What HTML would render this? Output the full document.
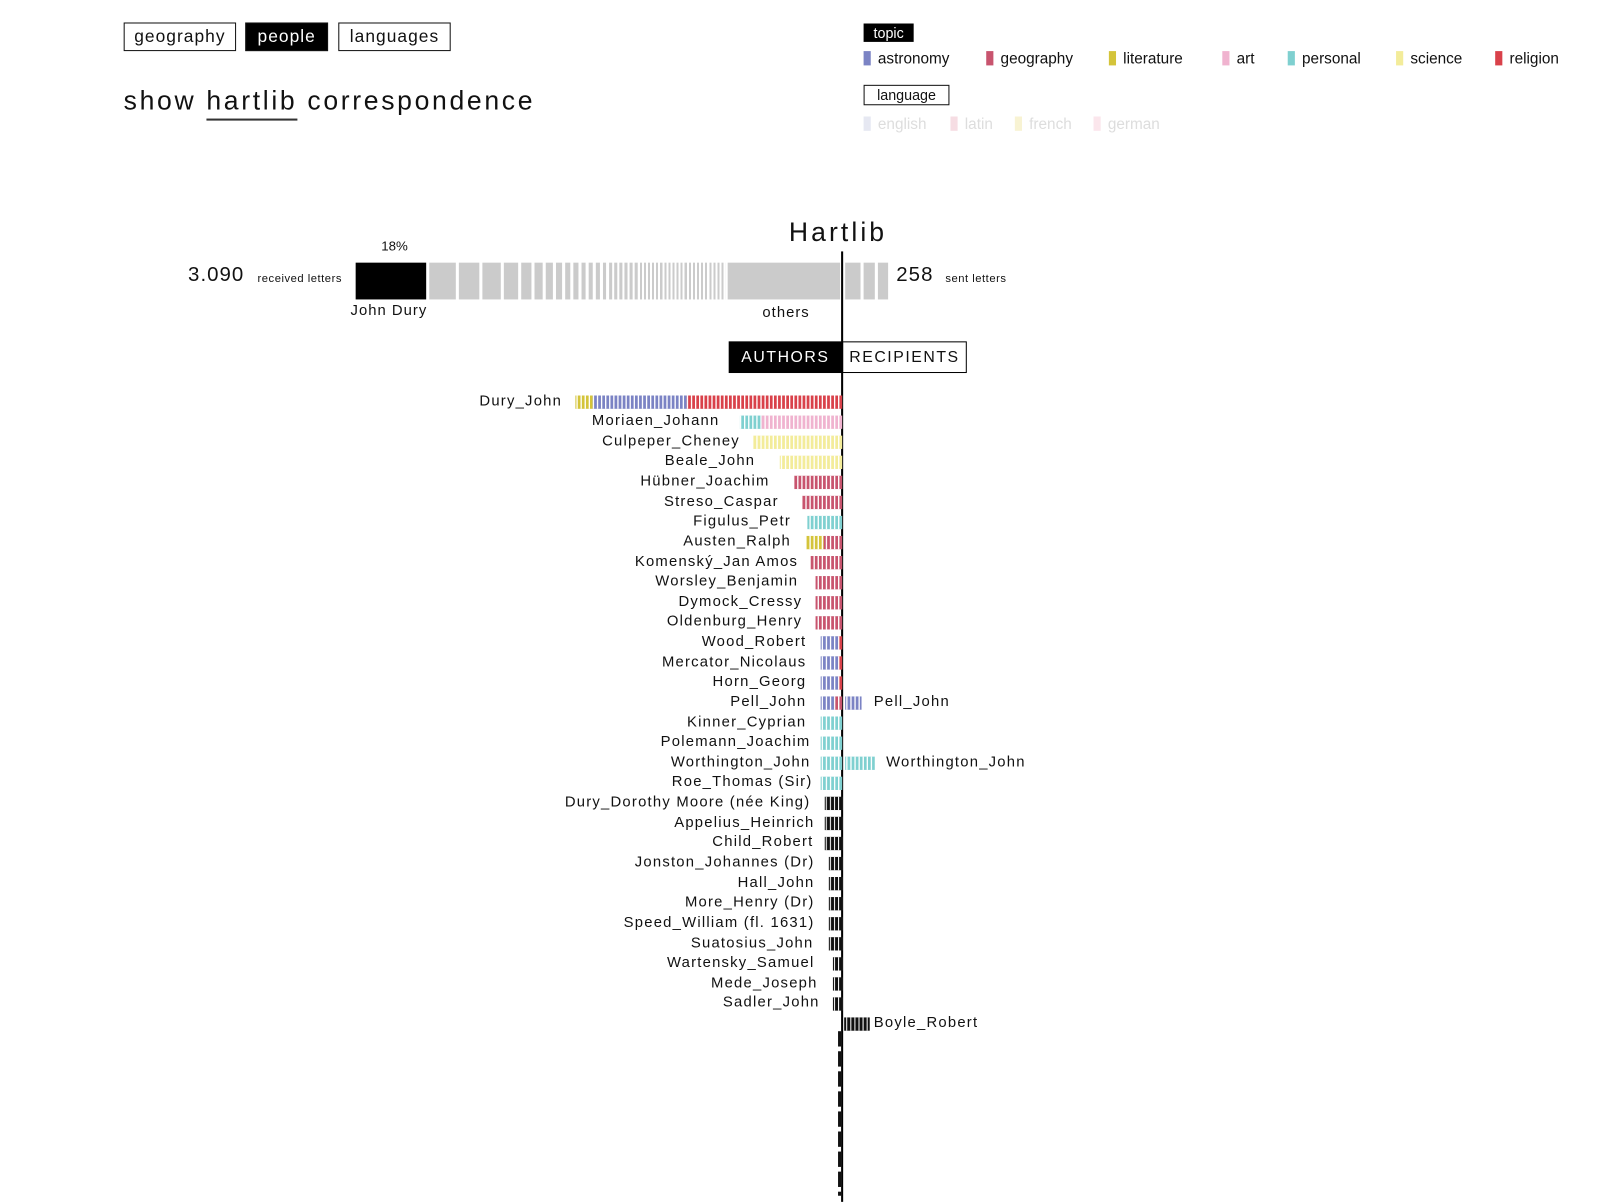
<!DOCTYPE html>
<html><head><meta charset="utf-8">
<style>
html,body{margin:0;padding:0;background:#fff;width:1600px;height:1200px;overflow:hidden}
#w{position:absolute;left:0;top:0;width:1560px;height:1170px;transform:scale(1.022);transform-origin:0 0;font-family:"Liberation Sans",sans-serif;color:#111}
.a{position:absolute;white-space:nowrap}
.btn{position:absolute;top:22px;height:26px;border:1.5px solid #111;font-size:17px;line-height:26px;text-align:center;letter-spacing:1px;box-sizing:content-box}
.lg{position:absolute;font-size:15px;line-height:18px;white-space:nowrap}
.sw{display:inline-block;width:7px;height:14px;vertical-align:-2px;margin-right:7px}
.lab{position:absolute;font-size:14.5px;letter-spacing:1.2px;line-height:20px;text-align:right;white-space:nowrap}
.b{position:absolute;height:13px}
.g{position:absolute;top:257px;height:36px;background:#cbcbcb}
</style></head><body><div id="w">
<div class="btn" style="left:121px;width:108px">geography</div>
<div class="btn" style="left:240px;width:79px;background:#000;color:#fff">people</div>
<div class="btn" style="left:331px;width:108px">languages</div>
<div class="a" style="left:121px;top:82px;font-size:26px;letter-spacing:2.6px;line-height:32px">show <span style="border-bottom:2px solid #333;padding-bottom:3px">hartlib</span> correspondence</div>

<div class="a" style="left:845px;top:23px;width:49px;height:18px;background:#000;color:#fff;font-size:14px;line-height:18px;text-align:center">topic</div>
<div class="lg" style="left:845px;top:49px"><span class="sw" style="background:#7b83c4"></span>astronomy</div>
<div class="lg" style="left:965px;top:49px"><span class="sw" style="background:#c8546e"></span>geography</div>
<div class="lg" style="left:1085px;top:49px"><span class="sw" style="background:#d4c43a"></span>literature</div>
<div class="lg" style="left:1196px;top:49px"><span class="sw" style="background:#f0b3cf"></span>art</div>
<div class="lg" style="left:1260px;top:49px"><span class="sw" style="background:#7fd0d0"></span>personal</div>
<div class="lg" style="left:1366px;top:49px"><span class="sw" style="background:#f3ec9a"></span>science</div>
<div class="lg" style="left:1463px;top:49px"><span class="sw" style="background:#d9414a"></span>religion</div>
<div class="a" style="left:845px;top:83px;width:82px;height:18px;border:1.5px solid #111;font-size:14px;line-height:18px;text-align:center">language</div>
<div class="lg" style="left:845px;top:113px;color:#ddd"><span class="sw" style="background:#e6e8f2"></span>english</div>
<div class="lg" style="left:930px;top:113px;color:#ddd"><span class="sw" style="background:#f6dde3"></span>latin</div>
<div class="lg" style="left:993px;top:113px;color:#ddd"><span class="sw" style="background:#f8f3d3"></span>french</div>
<div class="lg" style="left:1070px;top:113px;color:#ddd"><span class="sw" style="background:#fbe6ec"></span>german</div>

<div class="a" style="left:740px;width:160px;text-align:center;top:212px;font-size:26px;letter-spacing:3px">Hartlib</div>
<div class="a" style="left:823px;top:246px;width:1.5px;height:930px;background:#000"></div>
<div class="a" style="left:366px;width:40px;text-align:center;top:233px;font-size:13px">18%</div>
<div class="a" style="left:184px;top:258px;font-size:20px;letter-spacing:1px">3.090</div>
<div class="a" style="left:252px;top:267px;font-size:11px;letter-spacing:.5px">received letters</div>
<div class="a" style="left:877px;top:258px;font-size:20px;letter-spacing:1px">258</div>
<div class="a" style="left:925px;top:267px;font-size:11px;letter-spacing:.5px">sent letters</div>
<div class="a" style="left:348px;top:257px;width:69px;height:36px;background:#000"></div>
<div class="g" style="left:420px;width:26px"></div><div class="g" style="left:449px;width:20px"></div><div class="g" style="left:472px;width:18px"></div><div class="g" style="left:493px;width:14px"></div><div class="g" style="left:510px;width:10px"></div><div class="g" style="left:523px;width:8px"></div><div class="g" style="left:534px;width:7px"></div><div class="g" style="left:544px;width:6px"></div><div class="g" style="left:553px;width:5px"></div><div class="g" style="left:561px;width:5px"></div><div class="g" style="left:569px;width:4px"></div><div class="g" style="left:576px;width:4px"></div><div class="g" style="left:583px;width:4px"></div><div class="g" style="left:590px;width:3px"></div><div class="g" style="left:596px;width:3px"></div><div class="g" style="left:601px;width:3px"></div><div class="g" style="left:606px;width:3px"></div><div class="g" style="left:611px;width:3px"></div><div class="g" style="left:616px;width:3px"></div><div class="g" style="left:621px;width:3px"></div>
<div class="g" style="left:626px;width:84px;background:repeating-linear-gradient(90deg,#cbcbcb 0 2px,#fff 2px 4px)"></div>
<div class="g" style="left:712px;width:110px"></div>
<div class="g" style="left:827px;width:15px"></div><div class="g" style="left:845px;width:11px"></div><div class="g" style="left:859px;width:10px"></div>
<div class="a" style="left:343px;top:296px;font-size:14.5px;letter-spacing:1px">John Dury</div>
<div class="a" style="left:746px;top:298px;font-size:14.5px;letter-spacing:1px">others</div>
<div class="a" style="left:713px;top:334px;width:111px;height:31px;background:#000;color:#fff;font-size:15.5px;letter-spacing:1.5px;line-height:31px;text-align:center">AUTHORS</div>
<div class="a" style="left:824px;top:334px;width:120px;height:29px;border:1.5px solid #000;font-size:15.5px;letter-spacing:1.5px;line-height:29px;text-align:center">RECIPIENTS</div>

<svg class="a" style="left:0;top:0" width="1560" height="1170">
<defs>
<pattern id="st" width="4" height="20" patternUnits="userSpaceOnUse"><rect width="1.3" height="20" fill="#fff"/></pattern>
<pattern id="sk" width="4" height="20" patternUnits="userSpaceOnUse"><rect width="1" height="20" fill="#fff"/></pattern>
</defs>
<g id="bars"></g>
</svg>
<div id="rows"></div>
</div>
<script>
var C={a:'#7b83c4',g:'#c8546e',l:'#d4c43a',r:'#f0b3cf',p:'#7fd0d0',s:'#f3ec9a',e:'#d9414a',k:'#111'};
var R=[
['Dury_John',550,[[563,580,'l'],[580,672,'a'],[672,824,'e']]],
['Moriaen_Johann',704,[[724,745,'p'],[745,824,'r']]],
['Culpeper_Cheney',724,[[737,824,'s']]],
['Beale_John',739,[[763,824,'s']]],
['Hübner_Joachim',753,[[777,824,'g']]],
['Streso_Caspar',762,[[785,824,'g']]],
['Figulus_Petr',774,[[790,824,'p']]],
['Austen_Ralph',774,[[789,806,'l'],[806,824,'g']]],
['Komenský_Jan Amos',781,[[793,824,'g']]],
['Worsley_Benjamin',781,[[798,824,'g']]],
['Dymock_Cressy',785,[[798,824,'g']]],
['Oldenburg_Henry',785,[[798,824,'g']]],
['Wood_Robert',789,[[803,820,'a'],[820,824,'e']]],
['Mercator_Nicolaus',789,[[803,820,'a'],[820,824,'e']]],
['Horn_Georg',789,[[803,820,'a'],[820,824,'e']]],
['Pell_John',789,[[803,817,'a'],[817,824,'g'],[827,843,'a']],'Pell_John',855],
['Kinner_Cyprian',789,[[803,824,'p']]],
['Polemann_Joachim',793,[[803,824,'p']]],
['Worthington_John',793,[[803,824,'p'],[827,856,'p']],'Worthington_John',867],
['Roe_Thomas (Sir)',795,[[803,824,'p']]],
['Dury_Dorothy Moore (née King)',793,[[807,824,'k']]],
['Appelius_Heinrich',797,[[807,824,'k']]],
['Child_Robert',796,[[807,824,'k']]],
['Jonston_Johannes (Dr)',797,[[811,824,'k']]],
['Hall_John',797,[[811,824,'k']]],
['More_Henry (Dr)',797,[[811,824,'k']]],
['Speed_William (fl. 1631)',797,[[811,824,'k']]],
['Suatosius_John',796,[[811,824,'k']]],
['Wartensky_Samuel',797,[[815,824,'k']]],
['Mede_Joseph',800,[[815,824,'k']]],
['Sadler_John',802,[[815,824,'k']]],
['',0,[[826,851,'k']],'Boyle_Robert',855]
];
var s='',h='';
R.forEach(function(r,i){var y=393.5+i*19.63;
 if(r[0])h+='<div class="lab" style="right:'+(1560-r[1])+'px;top:'+(y-11)+'px">'+r[0]+'</div>';
 if(r[3])h+='<div class="lab" style="text-align:left;left:'+r[4]+'px;top:'+(y-11)+'px">'+r[3]+'</div>';
 r[2].forEach(function(b){s+='<rect x="'+b[0]+'" y="'+(y-6.5)+'" width="'+(b[1]-b[0])+'" height="13" fill="'+C[b[2]]+'"/>';
 s+='<rect x="'+b[0]+'" y="'+(y-6.5)+'" width="'+(b[1]-b[0])+'" height="13" fill="url(#'+(b[2]=='k'?'sk':'st')+')"/>';});
});
for(var y=1009;y<1170;y+=19.63){s+='<rect x="820" y="'+y+'" width="3" height="15" fill="#111"/>';}
document.getElementById('bars').innerHTML=s;
document.getElementById('rows').innerHTML=h;
</script>
</body></html>
